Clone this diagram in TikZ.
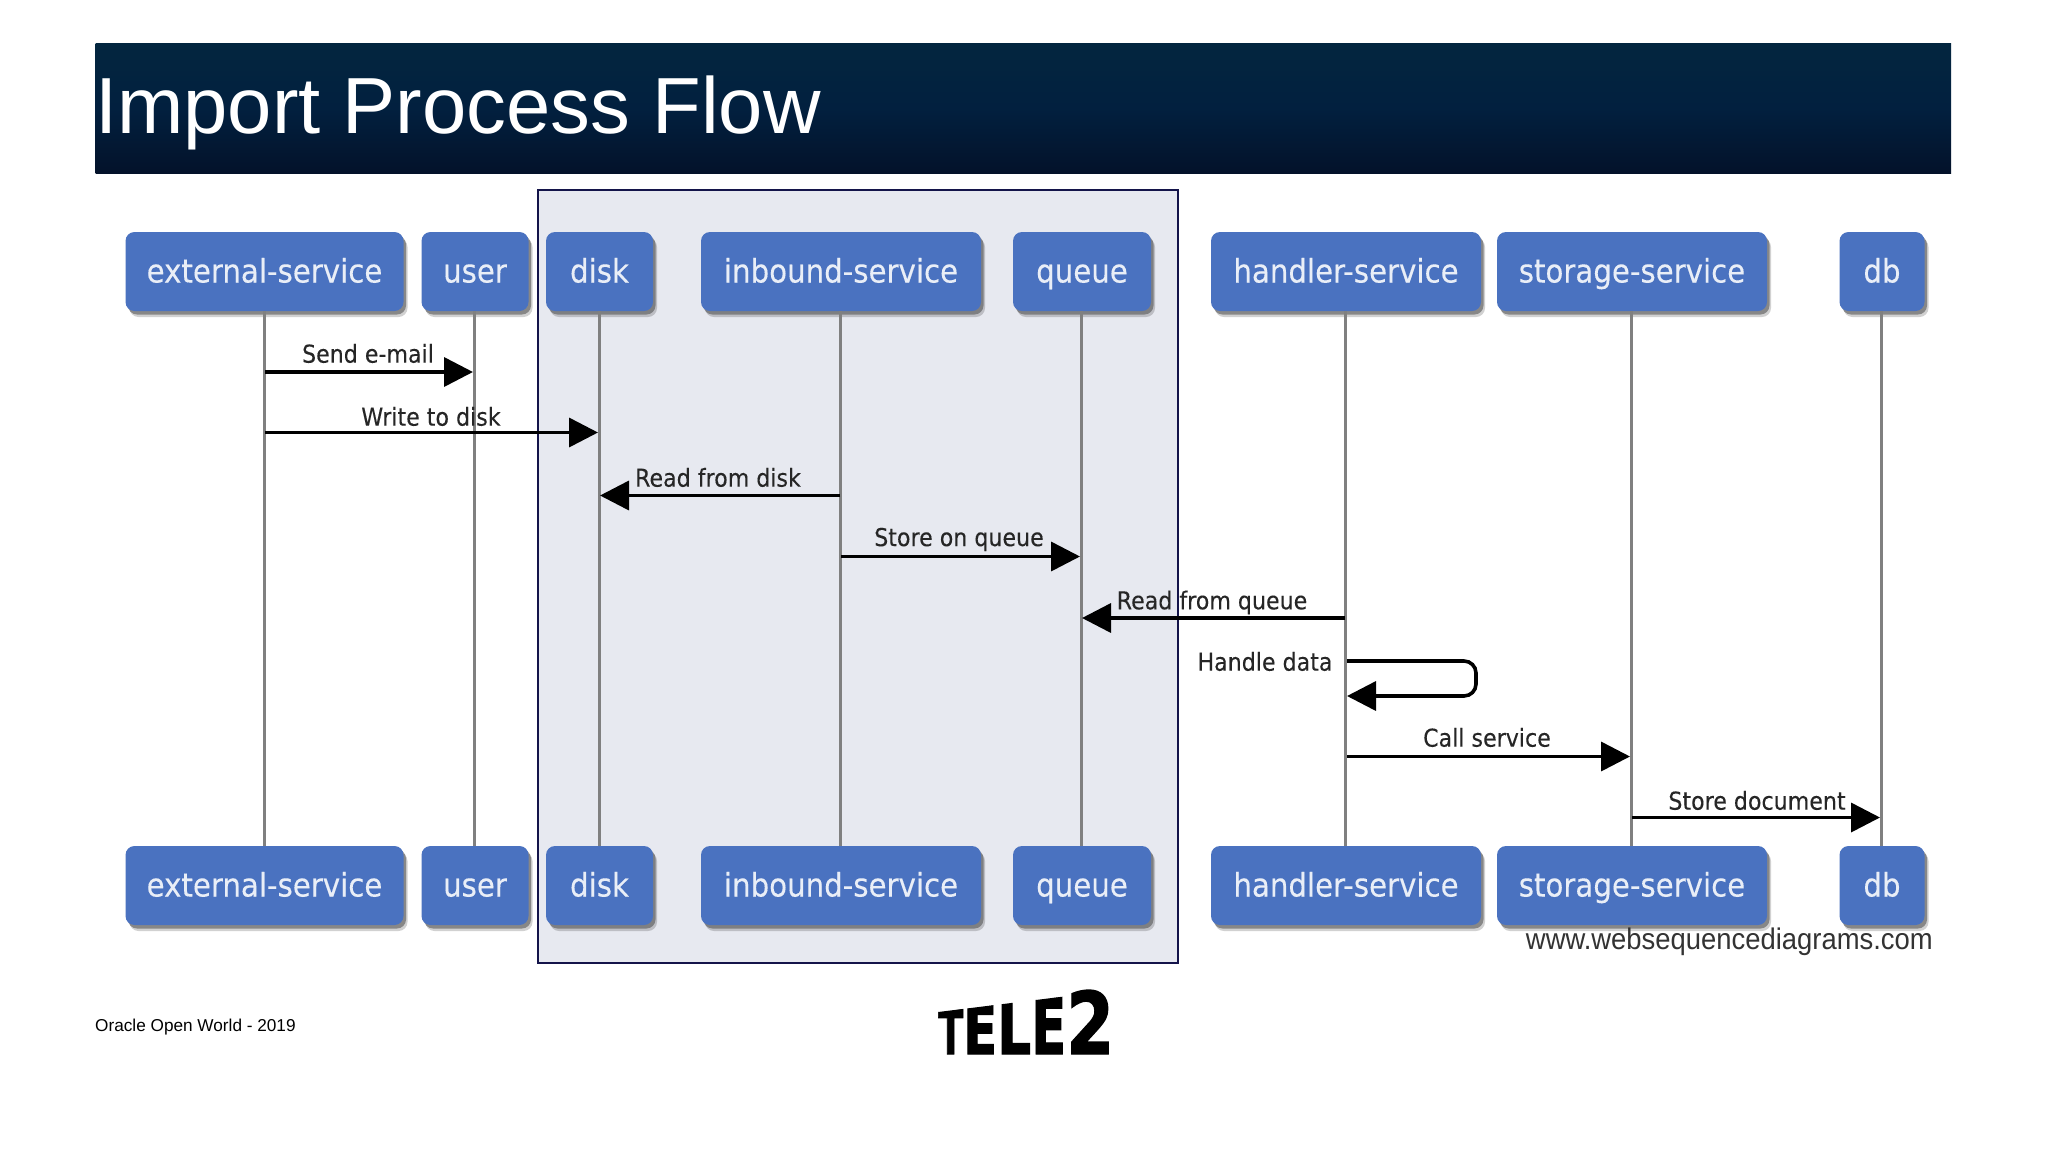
\documentclass[tikz,border=0pt]{standalone}
\usepackage{fontspec}
\usepackage{graphicx}
\usetikzlibrary{arrows.meta,shadows,calc}
\setmainfont{Liberation Sans}
\newfontfamily\lab[FakeStretch=0.9,FakeBold=0.25]{DejaVu Sans}
\newfontfamily\msgfont[FakeStretch=0.9,FakeBold=0.12]{DejaVu Sans}
\newfontfamily\wwwfont[FakeStretch=0.92]{Liberation Sans}
\newfontfamily\logofont[FakeBold=1.6]{DejaVu Sans Bold}
\newcommand{\logoglyph}[3]{\resizebox{#1pt}{#2pt}{\logofont\fontsize{60}{60}\selectfont #3}}
\definecolor{boxblue}{HTML}{4A72C0}
\definecolor{hdrtop}{HTML}{03263F}
\definecolor{hdrmid}{HTML}{02203F}
\definecolor{hdrbot}{HTML}{03122A}
\definecolor{panel}{HTML}{E7E9F0}
\definecolor{panelline}{HTML}{14144A}
\definecolor{life}{HTML}{808080}
\tikzset{
  actor/.style={draw=none,fill=boxblue,rounded corners=9pt,minimum height=79pt,inner sep=0pt,
    text=white!88!boxblue,font=\lab\fontsize{32.5}{32}\selectfont,text height=27pt,text depth=5pt,
    drop shadow={shadow xshift=4pt,shadow yshift=-6pt,opacity=.18,fill=black},
    drop shadow={shadow xshift=2.5pt,shadow yshift=-3.5pt,opacity=.55,fill=black!70}},
  lifeline/.style={draw=life,line width=3pt},
  msg/.style={draw=black,line width=3.6pt,-{Triangle[length=29pt,width=29pt]}},
  msglabel/.style={font=\msgfont\fontsize{24.6}{25}\selectfont,text=black!85,inner sep=0pt},
}
\begin{document}
\begin{tikzpicture}[x=1pt,y=-1pt]
\useasboundingbox (0,0) rectangle (2048,1152);
\fill[white] (0,0) rectangle (2048,1152);
% header
\shade[top color=hdrtop,bottom color=hdrbot,middle color=hdrmid] (95.5,43) rectangle (1951,173);
\node[anchor=base west,inner sep=0pt,text=white,font=\fontsize{79.6}{80}\selectfont] (title) at (95,133) {Import Process Flow};
% highlight panel
\draw[fill=panel,draw=panelline,line width=2pt] (537.5,189.5) rectangle (1177.5,962.5);
% actors top and bottom
\foreach \n/\cx/\w/\t in {ext/264.5/278/external-service,usr/475/107/user,dsk/599.5/107/disk,inb/841/280/inbound-service,que/1082/138/queue,han/1346/270/handler-service,sto/1632/270/storage-service,dbb/1882/85/db}{
  \node[actor,minimum width=\w pt] (\n T) at (\cx,271.5) {\t};
  \node[actor,minimum width=\w pt] (\n B) at (\cx,885.5) {\t};
}
% lifelines
\foreach \n in {ext,usr,dsk,inb,que,han,sto,dbb}{
  \draw[lifeline] ($(\n T.south)+(-0.5,0)$) -- ($(\n B.north)+(-0.5,0)$);
}
% message end points
\coordinate (a1) at (265,372); \coordinate (a2) at (473,372);
\coordinate (b1) at (265,432.5); \coordinate (b2) at (598,432.5);
\coordinate (c1) at (840,495.5); \coordinate (c2) at (600,495.5);
\coordinate (d1) at (841,556.5); \coordinate (d2) at (1080,556.5);
\coordinate (e1) at (1345,618); \coordinate (e2) at (1082,618);
\coordinate (f1) at (1347,661); \coordinate (f2) at (1347,696);
\coordinate (g1) at (1347,756.5); \coordinate (g2) at (1630,756.5);
\coordinate (h1) at (1632,817.5); \coordinate (h2) at (1880,817.5);
\draw[msg] (a1) -- (a2);
\draw[msg] (b1) -- (b2);
\draw[msg] (c1) -- (c2);
\draw[msg] (d1) -- (d2);
\draw[msg] (e1) -- (e2);
\draw[msg] (g1) -- (g2);
\draw[msg] (h1) -- (h2);
\draw[msg,rounded corners=12pt] (f1) -- ++(129,0) -- ++(0,35) -- (f2);
% labels
\node[msglabel] (la) at (368,353.5) {Send e-mail};
\node[msglabel] (lb) at (431,416.5) {Write to disk};
\node[msglabel] (lc) at (718,477.5) {Read from disk};
\node[msglabel] (ld) at (959,539.5) {Store on queue};
\node[msglabel] (le) at (1212,602.5) {Read from queue};
\node[msglabel] (lf) at (1265,661.5) {Handle data};
\node[msglabel] (lg) at (1487,737.5) {Call service};
\node[msglabel] (lh) at (1757,800.5) {Store document};
% watermark and footer
\node[anchor=east,inner sep=0pt,text=black!80,font=\wwwfont\fontsize{29.8}{30}\selectfont] (www) at (1933,942) {www.websequencediagrams.com};
\node[anchor=west,inner sep=0pt,font=\fontsize{17.2}{18}\selectfont] (foot) at (95,1027) {Oracle Open World - 2019};
% logo
\begin{scope}
\clip (930,1013) -- (1064,996.5) -- (1064,980) -- (1120,980) -- (1120,1054.5) -- (930,1054.5) -- cycle;
\node[anchor=base west,inner sep=0pt] (logo) at (938,1054) {\logoglyph{25}{45}{T}\logoglyph{34}{49}{E}\logoglyph{34}{54}{L}\logoglyph{35}{57}{E}\logoglyph{48}{64}{2}};
\end{scope}
\end{tikzpicture}
\end{document}
